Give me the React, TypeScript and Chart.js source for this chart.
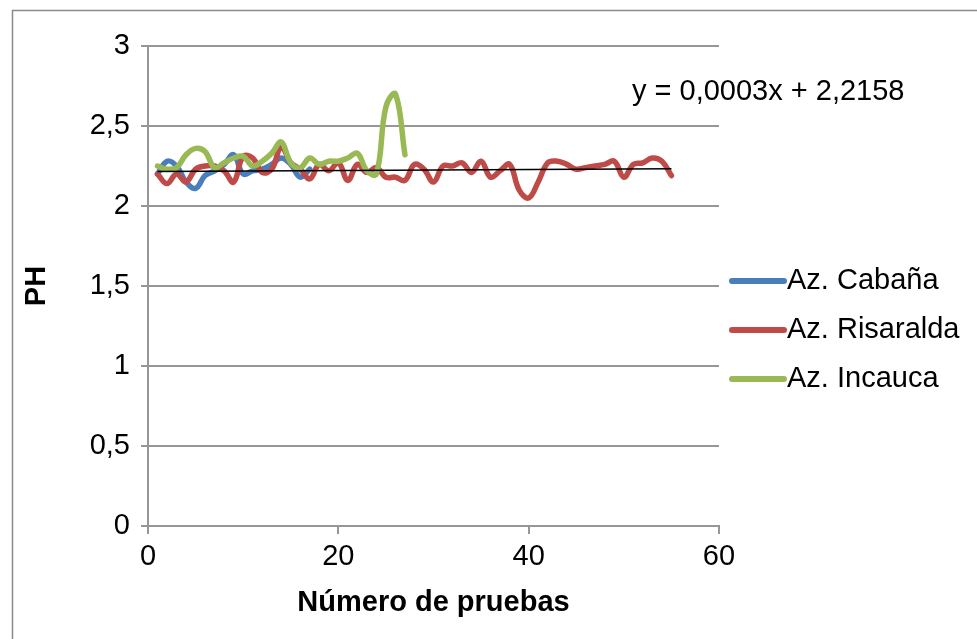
import React, { useEffect, useRef } from "react";
import { Chart, registerables } from "chart.js";

Chart.register(...registerables);

const seriesNames = ["Az. Cabaña", "Az. Risaralda", "Az. Incauca"];
const seriesColors = ["#4a7ebb", "#be4b48", "#98b954"];

const cabanaValues = [
  2.2, 2.28, 2.25, 2.15, 2.11, 2.19, 2.22, 2.26, 2.32, 2.2, 2.22, 2.23, 2.26,
  2.3, 2.26, 2.18, 2.23,
];

const risaraldaValues = [
  2.2, 2.14, 2.2, 2.15, 2.23, 2.25, 2.25, 2.22, 2.15, 2.31, 2.3, 2.21, 2.23,
  2.37, 2.27, 2.23, 2.17, 2.26, 2.22, 2.27, 2.16, 2.26, 2.21, 2.24, 2.18, 2.18,
  2.16, 2.26, 2.23, 2.15, 2.25, 2.25, 2.27, 2.21, 2.28, 2.18, 2.22, 2.26, 2.1,
  2.05, 2.15, 2.27, 2.28, 2.26, 2.23, 2.24, 2.25, 2.26, 2.28, 2.18, 2.26, 2.27,
  2.3, 2.28, 2.19,
];

const incaucaValues = [
  2.25, 2.23, 2.24, 2.32, 2.36, 2.34, 2.24, 2.27, 2.3, 2.31, 2.25, 2.28, 2.33,
  2.4, 2.27, 2.24, 2.3, 2.26, 2.28, 2.28, 2.3, 2.33, 2.22, 2.2, 2.62, 2.7, 2.32,
];

const trendSlope = 0.0003;
const trendIntercept = 2.2158;
const trendRange = [1, 55];
const trendLabel = "y = 0,0003x + 2,2158";

const xAxisTitle = "Número de pruebas";
const yAxisTitle = "PH";
const xRange = [0, 60, 20];
const yRange = [0, 3, 0.5];

const FONT = "'Liberation Sans', Arial, sans-serif";
const FS = 29;
const GRID = "#969696";

const toPoints = (vals: number[]) => vals.map((v, i) => ({ x: i + 1, y: v }));

export default function App() {
  const ref = useRef<HTMLCanvasElement | null>(null);

  useEffect(() => {
    if (!ref.current) return;
    const allSeries = [cabanaValues, risaraldaValues, incaucaValues];
    const datasets: any[] = allSeries.map((vals, i) => ({
      label: seriesNames[i],
      data: toPoints(vals),
      borderColor: seriesColors[i],
      backgroundColor: seriesColors[i],
      borderWidth: 5.5,
      pointRadius: 0,
      showLine: true,
      tension: 0.4,
      order: 3 - i,
      borderCapStyle: "round",
      borderJoinStyle: "round",
    }));
    datasets.push({
      label: "trend",
      data: trendRange.map((x) => ({ x, y: trendSlope * x + trendIntercept })),
      borderColor: "#000000",
      borderWidth: 1.5,
      pointRadius: 0,
      showLine: true,
      tension: 0,
      order: 0,
    });

    const extras = {
      id: "extras",
      beforeDraw(chart: any) {
        const c = chart.ctx;
        c.save();
        c.fillStyle = "#ffffff";
        c.fillRect(0, 0, chart.width, chart.height);
        c.strokeStyle = "#8a8a8a";
        c.lineWidth = 1.5;
        c.beginPath();
        c.moveTo(12.5, chart.height);
        c.lineTo(12.5, 10.5);
        c.lineTo(chart.width, 10.5);
        c.stroke();
        c.restore();
      },
      afterDraw(chart: any) {
        const c = chart.ctx;
        c.save();
        c.font = `${FS}px ${FONT}`;
        c.fillStyle = "#000";
        c.textBaseline = "middle";
        c.textAlign = "left";
        c.fillText(trendLabel, 632, 92);
        const ys = [281, 330, 379];
        for (let i = 0; i < 3; i++) {
          const ds = chart.data.datasets[i];
          c.strokeStyle = ds.borderColor;
          c.lineWidth = 6;
          c.lineCap = "round";
          c.beginPath();
          c.moveTo(732, ys[i]);
          c.lineTo(784, ys[i]);
          c.stroke();
          c.fillText(ds.label, 787, ys[i]);
        }
        c.restore();
      },
    };

    const chart = new Chart(ref.current, {
      type: "scatter",
      data: { datasets },
      plugins: [extras],
      options: {
        animation: false,
        responsive: false,
        maintainAspectRatio: false,
        layout: { padding: { left: 10, top: 46, right: 258, bottom: 10 } },
        plugins: { legend: { display: false }, tooltip: { enabled: false } },
        scales: {
          x: {
            type: "linear",
            min: xRange[0],
            max: xRange[1],
            afterFit: (s: any) => {
              s.height = 103;
            },
            ticks: {
              stepSize: xRange[2],
              font: { family: FONT, size: FS },
              color: "#000",
              padding: 6,
              maxRotation: 0,
            },
            grid: {
              drawOnChartArea: false,
              drawTicks: true,
              tickLength: 8,
              color: GRID,
              lineWidth: 2,
            },
            border: { display: true, color: GRID, width: 2 },
            title: {
              display: true,
              text: xAxisTitle,
              font: { family: FONT, size: FS, weight: "bold" },
              color: "#000",
              padding: { top: 0, bottom: 9 },
            },
          },
          y: {
            type: "linear",
            min: yRange[0],
            max: yRange[1],
            afterFit: (s: any) => {
              s.width = 138;
            },
            ticks: {
              stepSize: yRange[2],
              font: { family: FONT, size: FS },
              color: "#000",
              padding: 11,
              callback: (v: any) => String(v).replace(".", ","),
            },
            grid: {
              drawTicks: true,
              tickLength: 7,
              color: GRID,
              lineWidth: 2,
            },
            border: { display: true, color: GRID, width: 2 },
            title: {
              display: true,
              text: yAxisTitle,
              font: { family: FONT, size: FS, weight: "bold" },
              color: "#000",
              padding: { top: 10, bottom: 0 },
            },
          },
        },
      },
    });
    return () => chart.destroy();
  }, []);

  return (
    <div style={{ position: "absolute", left: 0, top: 0, width: 977, height: 639 }}>
      <canvas ref={ref} width={977} height={639} style={{ width: 977, height: 639, display: "block" }} />
    </div>
  );
}
